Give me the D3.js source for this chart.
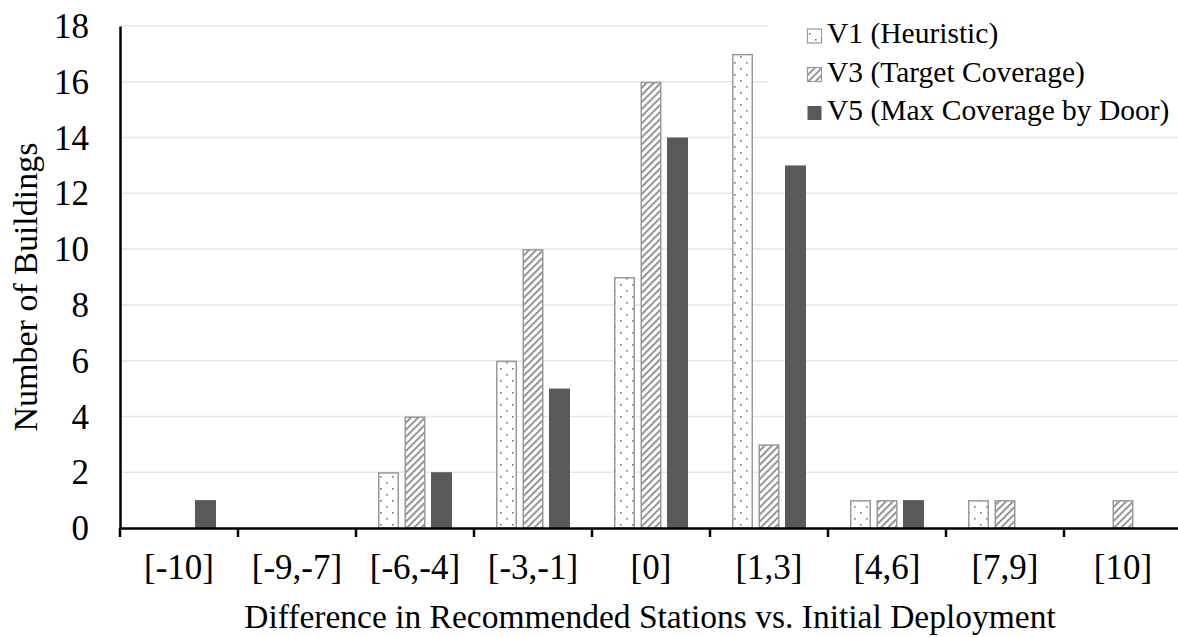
<!DOCTYPE html>
<html>
<head>
<meta charset="utf-8">
<script src="https://cdn.jsdelivr.net/npm/d3@7"></script>
<style>
  body { margin: 0; background: #fff; }
</style>
</head>
<body>
<script>
const categories = ["[-10]", "[-9,-7]", "[-6,-4]", "[-3,-1]", "[0]", "[1,3]", "[4,6]", "[7,9]", "[10]"];
const seriesNames = ["V1 (Heuristic)", "V3 (Target Coverage)", "V5 (Max Coverage by Door)"];
const v1 = [0, 0, 2, 6, 9, 17, 1, 1, 0];
const v3 = [0, 0, 4, 10, 16, 3, 1, 1, 1];
const v5 = [1, 0, 2, 5, 14, 13, 1, 0, 0];
const yTicks = [0, 2, 4, 6, 8, 10, 12, 14, 16, 18];

const FONT = "'Liberation Serif', Tinos, 'DejaVu Serif', serif";
const width = 1178;
const height = 637;
const plotLeft = 120, plotTop = 26, plotBottom = 528, plotRight = 1182;

const svg = d3.select("body").append("svg")
    .attr("width", width)
    .attr("height", height)
    .style("font-family", FONT);

// patterns
const defs = svg.append("defs");
const dots = defs.append("pattern")
    .attr("id", "dots")
    .attr("patternUnits", "userSpaceOnUse")
    .attr("width", 12).attr("height", 12);
dots.append("rect").attr("width", 12).attr("height", 12).attr("fill", "#fff");
dots.append("rect").attr("x", 2).attr("y", 2).attr("width", 1.6).attr("height", 1.6).attr("fill", "#777");
dots.append("rect").attr("x", 8).attr("y", 8).attr("width", 1.6).attr("height", 1.6).attr("fill", "#777");

const hatch = defs.append("pattern")
    .attr("id", "hatch")
    .attr("patternUnits", "userSpaceOnUse")
    .attr("width", 5).attr("height", 5)
    .attr("patternTransform", "rotate(45)");
hatch.append("rect").attr("width", 5).attr("height", 5).attr("fill", "#fff");
hatch.append("rect").attr("x", 0).attr("width", 1.8).attr("height", 5).attr("fill", "#8a8a8a");

const styles = [
    { fill: "url(#dots)", stroke: "#999", sw: 1.5 },
    { fill: "url(#hatch)", stroke: "#999", sw: 1.5 },
    { fill: "#595959", stroke: "none", sw: 0 }
];

const x0 = d3.scaleBand()
    .domain(categories)
    .range([plotLeft, plotRight])
    .padding(0);

const groupW = 74;
const x1 = d3.scaleBand()
    .domain(d3.range(3))
    .range([(x0.bandwidth() - groupW) / 2, (x0.bandwidth() + groupW) / 2])
    .paddingInner(0.2075);

const y = d3.scaleLinear()
    .domain([0, 18])
    .range([plotBottom, plotTop]);

// gridlines
svg.append("g")
    .selectAll("line")
    .data(yTicks.filter(d => d > 0))
    .enter()
    .append("line")
    .attr("x1", plotLeft)
    .attr("x2", plotRight)
    .attr("y1", d => y(d))
    .attr("y2", d => y(d))
    .attr("stroke", "#e6e6e6")
    .attr("stroke-width", 1.5);

// bars
const allSeries = [v1, v3, v5];
const rows = [];
categories.forEach((c, i) => {
    allSeries.forEach((s, j) => {
        if (s[i] > 0) rows.push({ cat: c, s: j, v: s[i] });
    });
});

svg.append("g")
    .selectAll("rect")
    .data(rows)
    .enter()
    .append("rect")
    .attr("x", d => x0(d.cat) + x1(d.s) + (styles[d.s].sw / 2))
    .attr("y", d => y(d.v) + (styles[d.s].sw / 2))
    .attr("width", d => x1.bandwidth() - styles[d.s].sw)
    .attr("height", d => y(0) - y(d.v) - styles[d.s].sw / 2)
    .attr("fill", d => styles[d.s].fill)
    .attr("stroke", d => styles[d.s].stroke)
    .attr("stroke-width", d => styles[d.s].sw);

// y axis
const yAxis = d3.axisLeft(y)
    .tickValues(yTicks)
    .tickSize(0)
    .tickPadding(31);

const yg = svg.append("g")
    .attr("transform", `translate(${plotLeft}, 0)`)
    .call(yAxis)
    .attr("font-family", FONT);
yg.select(".domain").attr("stroke", "#000").attr("stroke-width", 2.5);
yg.selectAll("text")
    .style("font-size", "35px")
    .attr("fill", "#000")
    .attr("dy", "0.33em");

// x axis
const xAxis = d3.axisBottom(x0)
    .tickSize(0);

const xg = svg.append("g")
    .attr("transform", `translate(0, ${plotBottom})`)
    .call(xAxis)
    .attr("font-family", FONT);
xg.select(".domain").attr("stroke", "#000").attr("stroke-width", 2.5);
xg.selectAll("text")
    .style("font-size", "35px")
    .attr("fill", "#000")
    .attr("y", 51)
    .attr("dy", 0);

// ticks between categories
xg.selectAll(".sep")
    .data(categories)
    .enter()
    .append("line")
    .attr("x1", d => x0(d))
    .attr("x2", d => x0(d))
    .attr("y1", 0)
    .attr("y2", 9)
    .attr("stroke", "#000")
    .attr("stroke-width", 2.5);

// axis titles
svg.append("text")
    .attr("transform", "rotate(-90)")
    .attr("x", -287)
    .attr("y", 37)
    .style("font-size", "34px")
    .style("text-anchor", "middle")
    .text("Number of Buildings");

svg.append("text")
    .attr("x", 650)
    .attr("y", 628)
    .style("font-size", "33.5px")
    .style("text-anchor", "middle")
    .text("Difference in Recommended Stations vs. Initial Deployment");

// legend
svg.append("rect")
    .attr("x", 768).attr("y", 8)
    .attr("width", 410).attr("height", 122)
    .attr("fill", "#fff");

const legend = svg.append("g").attr("transform", "translate(807, 43)");

const items = legend.selectAll(".item")
    .data(seriesNames)
    .enter()
    .append("g")
    .attr("transform", (d, i) => `translate(0, ${i * 38.5})`);

items.append("rect")
    .attr("x", 0.5).attr("y", -14)
    .attr("width", 14).attr("height", 14)
    .attr("fill", (d, i) => i === 2 ? "#595959" : styles[i].fill)
    .attr("stroke", (d, i) => styles[i].stroke)
    .attr("stroke-width", 1.2);

items.append("text")
    .attr("x", 20)
    .style("font-size", "29.5px")
    .text(d => d);
</script>
</body>
</html>
